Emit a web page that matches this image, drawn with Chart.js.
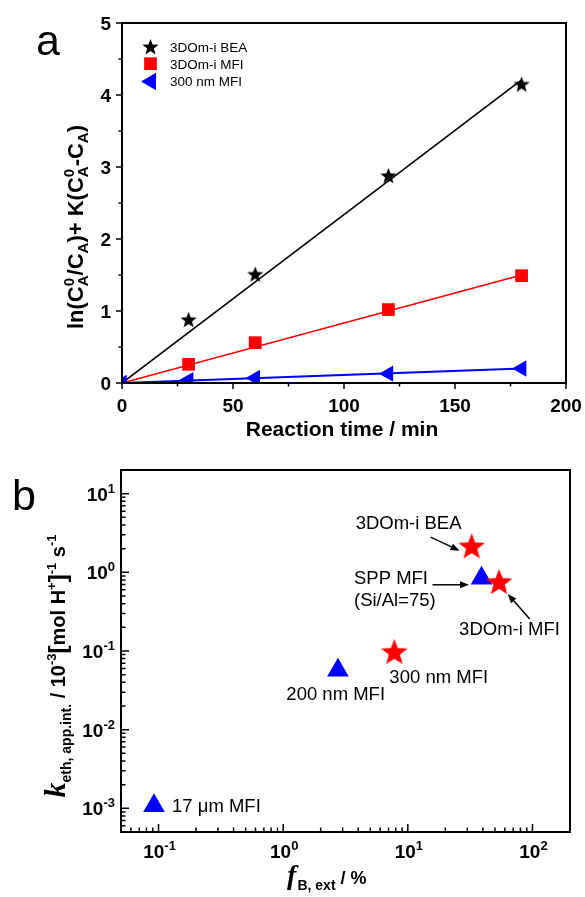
<!DOCTYPE html>
<html><head><meta charset="utf-8">
<script src="https://cdn.jsdelivr.net/npm/chart.js@4.4.1/dist/chart.umd.min.js"></script>
<style>
html,body{margin:0;padding:0;background:#fff;}
#wrap{position:relative;width:585px;height:897px;background:#fff;}
canvas{position:absolute;left:0;top:0;}
</style></head><body>
<div id="wrap">
<canvas id="ca" width="585" height="897"></canvas>
<canvas id="cb" width="585" height="897"></canvas>
</div>
<script>
// ---------- Panel a data ----------
const seriesA = ['3DOm-i BEA', '3DOm-i MFI', '300 nm MFI'];
const timeMin = [30, 60, 120, 180];
const lnBEA = [0.87, 1.50, 2.87, 4.14];
const ln3DMFI = [0.26, 0.56, 1.02, 1.49];
const time300 = [0, 30, 60, 120, 180];
const ln300MFI = [0.00, 0.04, 0.07, 0.13, 0.20];
const fitTime = [0, 180];
const fitBEA = [0, 4.21];
const fit3DMFI = [0, 1.50];
const fit300MFI = [0, 0.20];
const xTicksA = [0, 50, 100, 150, 200];
const xMinorA = [25, 75, 125, 175];
const yTicksA = [0, 1, 2, 3, 4, 5];
const yMinorA = [0.5, 1.5, 2.5, 3.5, 4.5];

// ---------- Panel b data ----------
const starNames = ['300 nm MFI', '3DOm-i BEA', '3DOm-i MFI'];
const starFB = [7.8, 32.5, 54];
const starK = [0.095, 2.09, 0.735];
const triNames = ['17 \u03bcm MFI', '200 nm MFI', 'SPP MFI'];
const triFB = [0.092, 2.75, 39];
const triK = [0.00108, 0.057, 0.84];
const xExpB = [-1, 0, 1, 2];
const yExpB = [-3, -2, -1, 0, 1];
const mantissas = [1, 2, 3, 4, 5, 6, 7, 8, 9];

const F = '"Liberation Sans", Arial, Helvetica, sans-serif';
const FS = '"Liberation Serif", "Times New Roman", Times, serif';

function starCanvas(R, color) {
  const s = Math.ceil(2 * R + 2);
  const c = document.createElement('canvas');
  c.width = s; c.height = s;
  const g = c.getContext('2d');
  g.translate(s / 2, s / 2);
  g.beginPath();
  for (let i = 0; i < 10; i++) {
    const r = i % 2 === 0 ? R : R * 0.42;
    const ang = -Math.PI / 2 + i * Math.PI / 5;
    g.lineTo(r * Math.cos(ang), r * Math.sin(ang));
  }
  g.closePath();
  g.fillStyle = color; g.fill();
  return c;
}
const starA = starCanvas(8.5, '#000000');
const starB = starCanvas(14, '#ff0000');

function layoutRich(ctx, segs) {
  let x = 0, hold = 0; const items = [];
  for (const s of segs) {
    ctx.font = s.f;
    const w = ctx.measureText(s.t).width;
    items.push({ s, x });
    if (s.hold) hold = Math.max(hold, w);
    else { x += Math.max(w, hold); hold = 0; }
  }
  return { items, width: x };
}
function drawRich(ctx, segs, x, y, align, angle) {
  const L = layoutRich(ctx, segs);
  ctx.save();
  ctx.translate(x, y);
  if (angle) ctx.rotate(angle);
  const x0 = align === 'center' ? -L.width / 2 : (align === 'right' ? -L.width : 0);
  ctx.textAlign = 'left'; ctx.textBaseline = 'alphabetic'; ctx.fillStyle = '#000';
  for (const it of L.items) { ctx.font = it.s.f; ctx.fillText(it.s.t, x0 + it.x, it.s.dy || 0); }
  ctx.restore();
}
function arrow(ctx, x1, y1, x2, y2) {
  const ang = Math.atan2(y2 - y1, x2 - x1), L = 9, W = 3.5;
  ctx.beginPath(); ctx.moveTo(x1, y1);
  ctx.lineTo(x2 - L * Math.cos(ang), y2 - L * Math.sin(ang)); ctx.stroke();
  ctx.beginPath(); ctx.moveTo(x2, y2);
  ctx.lineTo(x2 - L * Math.cos(ang) + W * Math.sin(ang), y2 - L * Math.sin(ang) - W * Math.cos(ang));
  ctx.lineTo(x2 - L * Math.cos(ang) - W * Math.sin(ang), y2 - L * Math.sin(ang) + W * Math.cos(ang));
  ctx.closePath(); ctx.fill();
}

const hiddenScale = (extra) => Object.assign({
  grid: { display: false, drawTicks: false },
  border: { display: false },
  ticks: { display: false }
}, extra);

// ---------- Panel a ----------
const plugA = { id: 'plugA', afterDraw(chart) {
  const { ctx, chartArea: a, scales: { x, y } } = chart;
  ctx.save();
  ctx.strokeStyle = '#000'; ctx.fillStyle = '#000';
  ctx.lineWidth = 2;
  ctx.strokeRect(a.left, a.top, a.right - a.left, a.bottom - a.top);
  ctx.lineWidth = 1.5;
  ctx.beginPath();
  xTicksA.forEach(v => { const p = x.getPixelForValue(v); ctx.moveTo(p, a.bottom); ctx.lineTo(p, a.bottom + 6); });
  xMinorA.forEach(v => { const p = x.getPixelForValue(v); ctx.moveTo(p, a.bottom); ctx.lineTo(p, a.bottom + 3.5); });
  yTicksA.forEach(v => { const p = y.getPixelForValue(v); ctx.moveTo(a.left, p); ctx.lineTo(a.left - 6, p); });
  yMinorA.forEach(v => { const p = y.getPixelForValue(v); ctx.moveTo(a.left, p); ctx.lineTo(a.left - 3.5, p); });
  ctx.stroke();
  ctx.font = 'bold 19px ' + F; ctx.textBaseline = 'alphabetic';
  ctx.textAlign = 'center';
  xTicksA.forEach(v => ctx.fillText(String(v), x.getPixelForValue(v), a.bottom + 29));
  ctx.textAlign = 'right';
  yTicksA.forEach(v => ctx.fillText(String(v), a.left - 11, y.getPixelForValue(v) + 7));
  // x title
  ctx.textAlign = 'center'; ctx.font = 'bold 21px ' + F;
  ctx.fillText('Reaction time / min', (a.left + a.right) / 2 - 2, a.bottom + 53);
  // y title
  const M = 'bold 22px ' + F, S = 'bold 15px ' + F;
  drawRich(ctx, [
    { t: 'ln(C', f: M }, { t: '0', f: S, dy: -9, hold: true }, { t: 'A', f: S, dy: 5 },
    { t: '/C', f: M }, { t: 'A', f: S, dy: 5 }, { t: ')+ K(C', f: M },
    { t: '0', f: S, dy: -9, hold: true }, { t: 'A', f: S, dy: 5 },
    { t: '-C', f: M }, { t: 'A', f: S, dy: 5 }, { t: ')', f: M }
  ], 83, 227, 'center', -Math.PI / 2);
  // panel letter
  ctx.textAlign = 'left'; ctx.font = '43px ' + F;
  ctx.fillText('a', 36, 55);
  // legend
  const leg = [
    { style: starA, rot: 0, r: 8, col: '#000', y: 47.5 },
    { style: 'rect', rot: 0, r: 9, col: '#ff0000', y: 63.7 },
    { style: 'triangle', rot: -90, r: 10, col: '#0000ff', y: 81.5 }
  ];
  ctx.font = '13.5px ' + F;
  leg.forEach((l, i) => {
    ctx.fillStyle = l.col; ctx.strokeStyle = l.col;
    Chart.helpers.drawPoint(ctx, { pointStyle: l.style, rotation: l.rot, radius: l.r, borderWidth: 0 }, i === 2 ? 151 : 150.5, l.y);
    ctx.fillStyle = '#000';
    ctx.fillText(seriesA[i], 170, l.y + 4.8);
  });
  ctx.restore();
}};

new Chart(document.getElementById('ca'), {
  type: 'scatter',
  data: { datasets: [
    { label: seriesA[0], data: timeMin.map((t, i) => ({ x: t, y: lnBEA[i] })), pointStyle: starA, pointRadius: 8, showLine: false },
    { label: seriesA[1], data: timeMin.map((t, i) => ({ x: t, y: ln3DMFI[i] })), pointStyle: 'rect', pointRadius: 9,
      pointBackgroundColor: '#ff0000', pointBorderColor: '#ff0000', pointBorderWidth: 0, showLine: false },
    { label: seriesA[2], data: time300.map((t, i) => ({ x: t, y: ln300MFI[i] })), pointStyle: 'triangle', pointRotation: -90, pointRadius: 9.5,
      pointBackgroundColor: '#0000ff', pointBorderColor: '#0000ff', pointBorderWidth: 0, showLine: false, clip: 0 },
    { label: 'fit BEA', data: fitTime.map((t, i) => ({ x: t, y: fitBEA[i] })), showLine: true, pointRadius: 0, borderColor: '#000', borderWidth: 1.6 },
    { label: 'fit 3DOm MFI', data: fitTime.map((t, i) => ({ x: t, y: fit3DMFI[i] })), showLine: true, pointRadius: 0, borderColor: '#ff0000', borderWidth: 1.6 },
    { label: 'fit 300 MFI', data: fitTime.map((t, i) => ({ x: t, y: fit300MFI[i] })), showLine: true, pointRadius: 0, borderColor: '#0000ff', borderWidth: 2 }
  ]},
  options: {
    responsive: false, animation: false, devicePixelRatio: 1,
    layout: { padding: { left: 0, top: 23, right: 19, bottom: 897 - 383 - 40 } },
    plugins: { legend: { display: false }, tooltip: { enabled: false } },
    scales: {
      x: hiddenScale({ type: 'linear', min: 0, max: 200, afterFit: s => { s.height = 40; } }),
      y: hiddenScale({ type: 'linear', min: 0, max: 5, afterFit: s => { s.width = 122; } })
    }
  },
  plugins: [plugA]
});

// ---------- Panel b ----------
const annB = {
  stars: [
    { dx: -5, dy: 30.7, lines: [starNames[0]] },
    { dx: -116, dy: -18, lines: [starNames[1]], arrow: [-41, -10, -12, 3.5] },
    { dx: -40, dy: 52.4, lines: [starNames[2]], arrow: [30.6, 36.2, 8.6, 11.2] }
  ],
  tris: [
    { dx: 18, dy: 6.3, lines: [triNames[0]] },
    { dx: -51.6, dy: 29.8, lines: [triNames[1]] },
    { dx: -127.5, dy: 6, lines: [triNames[2], '(Si/Al=75)'], arrow: [-49, 6.5, -12.5, 6.5] }
  ]
};
const plugB = { id: 'plugB', afterDraw(chart) {
  const { ctx, chartArea: a, scales: { x, y } } = chart;
  ctx.save();
  ctx.strokeStyle = '#000'; ctx.fillStyle = '#000';
  ctx.lineWidth = 2;
  ctx.strokeRect(a.left, a.top, a.right - a.left, a.bottom - a.top);
  ctx.lineWidth = 1.5;
  ctx.beginPath();
  const decX = [-2, -1, 0, 1, 2], decY = [-4, -3, -2, -1, 0, 1];
  decX.forEach(e => mantissas.forEach(m => {
    const v = m * Math.pow(10, e);
    if (v < x.min - 1e-12 || v > x.max) return;
    const p = x.getPixelForValue(v), len = m === 1 ? 8 : 4.5;
    ctx.moveTo(p, a.bottom); ctx.lineTo(p, a.bottom - len);
  }));
  decY.forEach(e => mantissas.forEach(m => {
    const v = m * Math.pow(10, e);
    if (v < y.min - 1e-12 || v > y.max) return;
    const p = y.getPixelForValue(v), len = m === 1 ? 8 : 4.5;
    ctx.moveTo(a.left, p); ctx.lineTo(a.left + len, p);
  }));
  ctx.stroke();
  const T = 'bold 19px ' + F, P = 'bold 13px ' + F;
  xExpB.forEach(e => drawRich(ctx, [{ t: '10', f: T }, { t: String(e), f: P, dy: -8 }],
    x.getPixelForValue(Math.pow(10, e)) + 1, a.bottom + 26, 'center'));
  yExpB.forEach(e => drawRich(ctx, [{ t: '10', f: T }, { t: String(e), f: P, dy: -8 }],
    a.left - 6, y.getPixelForValue(Math.pow(10, e)) + 7, 'right'));
  // x title
  drawRich(ctx, [
    { t: 'f', f: 'italic bold 28px ' + FS }, { t: ' ', f: 'bold 4px ' + F },
    { t: 'B, ext', f: 'bold 14px ' + F, dy: 6 }, { t: ' / %', f: 'bold 18px ' + F }
  ], 287, 884, 'left');
  // y title
  const Mb = 'bold 20px ' + F, Pb = 'bold 13px ' + F, Bb = 'bold 24px ' + F;
  drawRich(ctx, [
    { t: 'k', f: 'italic bold 30px ' + FS }, { t: 'eth, app.int.', f: 'bold 14px ' + F, dy: 6 },
    { t: ' / 10', f: Mb }, { t: '-3', f: Pb, dy: -9 }, { t: '[', f: Bb, dy: 1 },
    { t: 'mol H', f: Mb }, { t: '+', f: Pb, dy: -9 }, { t: ']', f: Bb, dy: 1 },
    { t: '-1', f: Pb, dy: -9 }, { t: ' s', f: Mb }, { t: '-1', f: Pb, dy: -9 }
  ], 65, 666, 'center', -Math.PI / 2);
  // panel letter
  ctx.textAlign = 'left'; ctx.font = '43px ' + F;
  ctx.fillText('b', 12, 510);
  // annotations
  ctx.font = '18.5px ' + F; ctx.lineWidth = 1.5;
  const put = (fb, k, an) => {
    const px = x.getPixelForValue(fb), py = y.getPixelForValue(k);
    an.lines.forEach((s, j) => ctx.fillText(s, px + an.dx, py + an.dy + j * 21.5));
    if (an.arrow) arrow(ctx, px + an.arrow[0], py + an.arrow[1], px + an.arrow[2], py + an.arrow[3]);
  };
  annB.stars.forEach((an, i) => put(starFB[i], starK[i], an));
  annB.tris.forEach((an, i) => put(triFB[i], triK[i], an));
  ctx.restore();
}};

new Chart(document.getElementById('cb'), {
  type: 'scatter',
  data: { datasets: [
    { label: 'stars', data: starFB.map((v, i) => ({ x: v, y: starK[i] })), pointStyle: starB, pointRadius: 14, showLine: false },
    { label: 'triangles', data: triFB.map((v, i) => ({ x: v, y: triK[i] })), pointStyle: 'triangle', pointRadius: 12.5,
      pointBackgroundColor: '#0000ff', pointBorderColor: '#0000ff', pointBorderWidth: 0, showLine: false }
  ]},
  options: {
    responsive: false, animation: false, devicePixelRatio: 1,
    layout: { padding: { left: 0, top: 470, right: 15, bottom: 897 - 832 - 40 } },
    plugins: { legend: { display: false }, tooltip: { enabled: false } },
    scales: {
      x: hiddenScale({ type: 'logarithmic', min: 0.05, max: 200, afterFit: s => { s.height = 40; } }),
      y: hiddenScale({ type: 'logarithmic', min: 0.0005, max: 20, afterFit: s => { s.width = 121; } })
    }
  },
  plugins: [plugB]
});
</script>
</body></html>
